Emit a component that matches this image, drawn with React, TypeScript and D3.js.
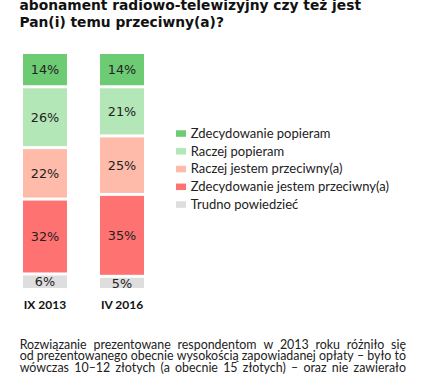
import React, { useEffect, useRef, useState } from "react";
import * as d3 from "d3";

const categories = ["IX 2013", "IV 2016"];
const seriesNames = [
  "Zdecydowanie popieram",
  "Raczej popieram",
  "Raczej jestem przeciwny(a)",
  "Zdecydowanie jestem przeciwny(a)",
  "Trudno powiedzieć",
];
const values2013 = [14, 26, 22, 32, 6];
const values2016 = [14, 21, 25, 35, 5];
const colors = ["#6dcb74", "#b4e7b7", "#feBBA9", "#ff7272", "#dedede"];
const titleLines = [
  "abonament radiowo-telewizyjny czy też jest",
  "Pan(i) temu przeciwny(a)?",
];
const noteLines = [
  "Rozwiązanie prezentowane respondentom w 2013 roku różniło się",
  "od prezentowanego obecnie wysokością zapowiadanej opłaty – było to",
  "wówczas 10–12 złotych (a obecnie 15 złotych) – oraz nie zawierało",
];

const W = 427;
const H = 380;
const NOTE_FONT = "Lato, sans-serif";
const NOTE_SIZE = 12.8;
const NOTE_LEFT = 19.7;
const NOTE_RIGHT = 406;

type Layout = { k: number; lines: { x: number; w: string }[][] };

export default function App() {
  const svgRef = useRef<SVGSVGElement>(null);
  const [layout, setLayout] = useState<Layout | null>(null);
  const data = [values2013, values2016];

  const x = d3.scaleBand<string>().domain(categories).range([23, 144]).paddingInner(0.4286).paddingOuter(0);
  const y = d3.scaleLinear().domain([0, 100]).range([54, 288]);
  const gap = 1.5;

  useEffect(() => {
    const run = () => {
      const svg = svgRef.current;
      if (!svg) return;
      const t = document.createElementNS("http://www.w3.org/2000/svg", "text");
      t.setAttribute("font-family", NOTE_FONT);
      t.setAttribute("font-size", String(NOTE_SIZE));
      t.setAttribute("x", "-1000");
      t.setAttribute("y", "-1000");
      svg.appendChild(t);
      const m = (s: string) => {
        t.textContent = s;
        return t.getComputedTextLength();
      };
      const spaceW = m("a a") - m("aa");
      const words = noteLines.map((l) => l.split(" "));
      const widths = words.map((ws) => ws.map(m));
      svg.removeChild(t);
      const avail = NOTE_RIGHT - NOTE_LEFT;
      const nat2 = d3.sum(widths[1]) + (words[1].length - 1) * spaceW;
      const k = avail / nat2;
      const target = avail / k;
      const lines = words.map((ws, li) => {
        const sw = d3.sum(widths[li]);
        const g = (target - sw) / Math.max(1, ws.length - 1);
        let cx = 0;
        return ws.map((w, wi) => {
          const pos = { x: cx, w };
          cx += widths[li][wi] + g;
          return pos;
        });
      });
      setLayout({ k, lines });
    };
    run();
    const fonts = (document as any).fonts;
    if (fonts && fonts.ready) fonts.ready.then(run);
  }, []);

  const legendX = 176;
  const legendY0 = 133.3;
  const legendStep = 17.75;

  return (
    <svg
      ref={svgRef}
      width={W}
      height={H}
      style={{ position: "absolute", left: 0, top: 0, background: "#fff" }}
    >
      <g fontFamily="'DejaVu Sans', Verdana, sans-serif" fontWeight="bold" fontSize={13.8} fill="#111">
        {titleLines.map((t, i) => (
          <text key={i} x={19.5} y={9.5 + i * 17}>
            {t}
          </text>
        ))}
      </g>

      {categories.map((cat, ci) => {
        const vals = data[ci];
        const cum = d3.cumsum(vals);
        const bx = x(cat)!;
        const bw = x.bandwidth();
        return (
          <g key={cat}>
            {vals.map((v, si) => {
              const start = si === 0 ? 0 : cum[si - 1];
              const end = cum[si];
              const y0 = y(start) + (si === 0 ? 0 : gap);
              const y1 = y(end) - (si === vals.length - 1 ? 0 : gap);
              return (
                <g key={si}>
                  <rect x={bx} y={y0} width={bw} height={y1 - y0} fill={colors[si]} />
                  <text
                    x={bx + bw / 2}
                    y={(y0 + y1) / 2}
                    dy="0.36em"
                    textAnchor="middle"
                    fontFamily="'DejaVu Sans', Verdana, sans-serif"
                    fontSize={12.8}
                    fill="#222"
                  >
                    {v}%
                  </text>
                </g>
              );
            })}
            <text
              x={bx + bw / 2}
              y={309}
              textAnchor="middle"
              fontFamily="Lato, sans-serif"
              fontWeight="bold"
              fontSize={12}
              fill="#111"
            >
              {cat}
            </text>
          </g>
        );
      })}

      <g fontFamily="Lato, sans-serif" fontSize={13} fill="#222">
        {seriesNames.map((n, i) => (
          <g key={n} transform={`translate(${legendX},${legendY0 + i * legendStep})`}>
            <rect x={0} y={-3} width={10} height={6.5} fill={colors[i]} />
            <text x={14.7} y={0} dy="0.35em">
              {n}
            </text>
          </g>
        ))}
      </g>

      <g
        transform={`translate(${NOTE_LEFT},0) scale(${layout ? layout.k : 1},1)`}
        fontFamily={NOTE_FONT}
        fontSize={NOTE_SIZE}
        fill="#222"
      >
        {layout
          ? layout.lines.map((ln, i) => (
              <text key={i} y={349 + i * 11.5}>
                {ln.map((p, j) => (
                  <tspan key={j} x={p.x}>
                    {p.w}
                  </tspan>
                ))}
              </text>
            ))
          : noteLines.map((t, i) => (
              <text key={i} x={0} y={349 + i * 11.5}>
                {t}
              </text>
            ))}
      </g>
    </svg>
  );
}
